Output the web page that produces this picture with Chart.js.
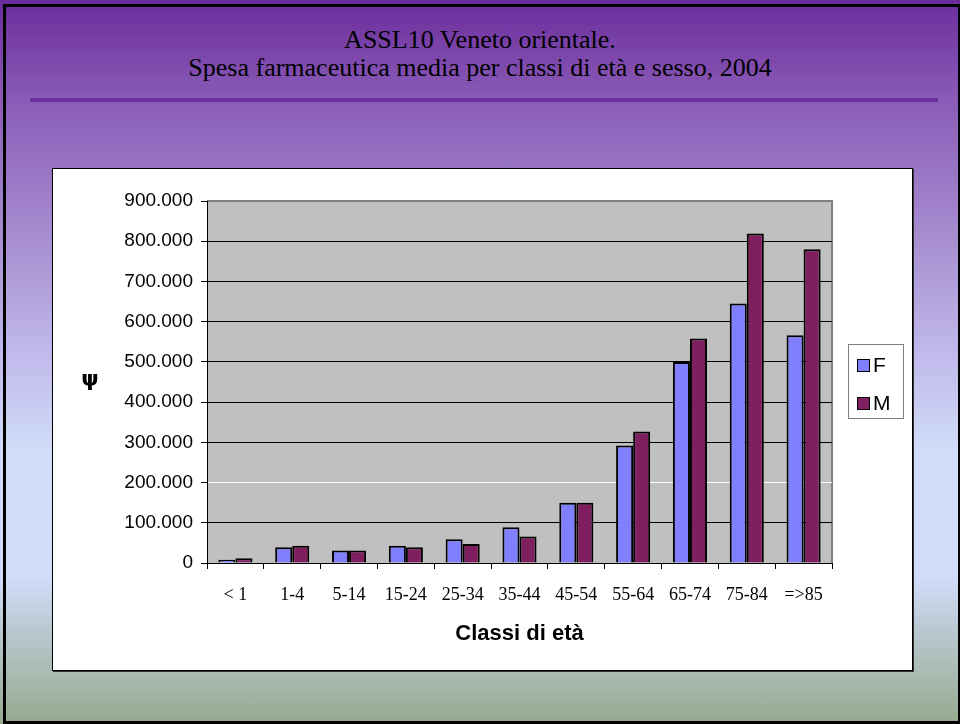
<!DOCTYPE html>
<html lang="it">
<head>
<meta charset="utf-8">
<title>Spesa farmaceutica media per classi di età e sesso, 2004</title>
<script src="https://cdn.jsdelivr.net/npm/chart.js@4.4.1/dist/chart.umd.min.js"></script>
<style>
  html, body { margin: 0; padding: 0; }
  body {
    width: 960px; height: 724px; position: relative; overflow: hidden;
    background: linear-gradient(to bottom,
      #6c2c9c 0%, #8a5cb8 14%, #a386cc 30%, #c2bcec 50%,
      #d0dcf8 62%, #d0dcf8 80%, #b6c6cc 88%, #96aa8e 100%);
  }
  .frame {
    position: absolute; left: 3px; top: 4px; width: 952px; height: 714px;
    border: 3px solid #000;
  }
  .title {
    position: absolute; left: 0; width: 960px; text-align: center;
    font-family: "Liberation Serif", serif; font-size: 26px; line-height: 28px; color: #000;
  }
  .rule {
    position: absolute; left: 30px; top: 98px; width: 908px; height: 4px;
    background: #7030a0;
  }
  .box {
    position: absolute; left: 52px; top: 168px; width: 859px; height: 501px;
    background: #fff; border: 1px solid #000; box-shadow: 1px 1px 0 #333;
  }
  #wrap { position: absolute; left: 0; top: 0; width: 960px; height: 724px; }
</style>
</head>
<body>
<div class="frame"></div>
<div class="title" style="top:26px">ASSL10 Veneto orientale.</div>
<div class="title" style="top:54px">Spesa farmaceutica media per classi di età e sesso, 2004</div>
<div class="rule"></div>
<div class="box"></div>
<div id="wrap"><canvas id="chart" width="960" height="724"></canvas></div>

<script>
// classi di età e spesa media per sesso
const categories = ["< 1", "1-4", "5-14", "15-24", "25-34", "35-44", "45-54", "55-64", "65-74", "75-84", "=>85"];
const femmine = [8000, 39000, 31000, 43000, 59000, 89000, 150000, 292000, 500000, 645000, 566000];
const maschi = [12000, 43000, 31000, 39000, 47000, 66000, 150000, 327000, 558000, 819000, 780000];
const yMax = 900000;
const yStep = 100000;

// 900000 -> "900.000"
function formatIt(v) {
  return String(v).replace(/\B(?=(\d{3})+(?!\d))/g, ".");
}

// sfondo grigio dell'area del grafico + bordo
const plotBg = {
  id: "plotBg",
  beforeDraw(chart) {
    const { ctx, chartArea: a } = chart;
    ctx.save();
    ctx.fillStyle = "#c0c0c0";
    ctx.fillRect(a.left, a.top, a.right - a.left, a.bottom - a.top);
    ctx.strokeStyle = "#808080";
    ctx.lineWidth = 2;
    ctx.beginPath();
    ctx.moveTo(a.left, a.top);
    ctx.lineTo(a.right, a.top);
    ctx.lineTo(a.right, a.bottom);
    ctx.stroke();
    ctx.restore();
  }
};

// legenda a destra e simbolo dell'asse y
const extras = {
  id: "extras",
  afterDraw(chart) {
    const ctx = chart.ctx;
    ctx.save();
    ctx.fillStyle = "#fff";
    ctx.fillRect(848, 344, 55, 74);
    ctx.strokeStyle = "#808080";
    ctx.lineWidth = 1;
    ctx.strokeRect(848.5, 344.5, 55, 74);
    ctx.font = "21px 'Liberation Sans', Arial, sans-serif";
    ctx.textBaseline = "middle";
    chart.data.datasets.forEach((ds, i) => {
      const y = 365 + i * 38;
      ctx.fillStyle = ds.backgroundColor;
      ctx.fillRect(857, y - 6, 12, 12);
      ctx.strokeStyle = "#000";
      ctx.strokeRect(857.5, y - 5.5, 12, 12);
      ctx.fillStyle = "#000";
      ctx.fillText(ds.label, 873, y + 1);
    });
    ctx.font = "bold 22px 'DejaVu Sans', sans-serif";
    ctx.textAlign = "center";
    ctx.fillText("ψ", 90, 380);
    ctx.restore();
  }
};

new Chart(document.getElementById("chart"), {
  type: "bar",
  data: {
    labels: categories,
    datasets: [
      {
        label: "F",
        data: femmine,
        backgroundColor: "#8080ff",
        borderColor: "#000",
        borderWidth: 2,
        categoryPercentage: 0.6,
        barPercentage: 1
      },
      {
        label: "M",
        data: maschi,
        backgroundColor: "#801f5f",
        borderColor: "#000",
        borderWidth: 2,
        categoryPercentage: 0.6,
        barPercentage: 1
      }
    ]
  },
  options: {
    responsive: false,
    animation: false,
    layout: { padding: { left: 122, top: 201, right: 128, bottom: 73 } },
    plugins: {
      legend: { display: false },
      tooltip: { enabled: false }
    },
    scales: {
      x: {
        afterFit: s => { s.height = 88; },
        grid: { drawOnChartArea: false, offset: true, tickLength: 6, color: "#000" },
        border: { color: "#000", width: 1 },
        ticks: {
          padding: 15,
          color: "#000",
          maxRotation: 0,
          font: { family: "'Liberation Serif', serif", size: 18 }
        },
        title: {
          display: true,
          text: "Classi di età",
          color: "#000",
          padding: { top: 0, bottom: 4 },
          font: { family: "'Liberation Sans', Arial, sans-serif", size: 22, weight: "bold" }
        }
      },
      y: {
        min: 0,
        max: yMax,
        afterFit: s => { s.width = 85; },
        grid: {
          tickLength: 6,
          tickColor: "#000",
          color: c => c.tick.value === 200000 ? "#fff" : (c.tick.value === yMax ? "#808080" : "#000")
        },
        border: { color: "#000", width: 1 },
        ticks: {
          stepSize: yStep,
          padding: 8,
          color: "#000",
          font: { family: "'Liberation Sans', Arial, sans-serif", size: 19 },
          callback: v => formatIt(v)
        }
      }
    }
  },
  plugins: [plotBg, extras]
});
</script>
</body>
</html>
